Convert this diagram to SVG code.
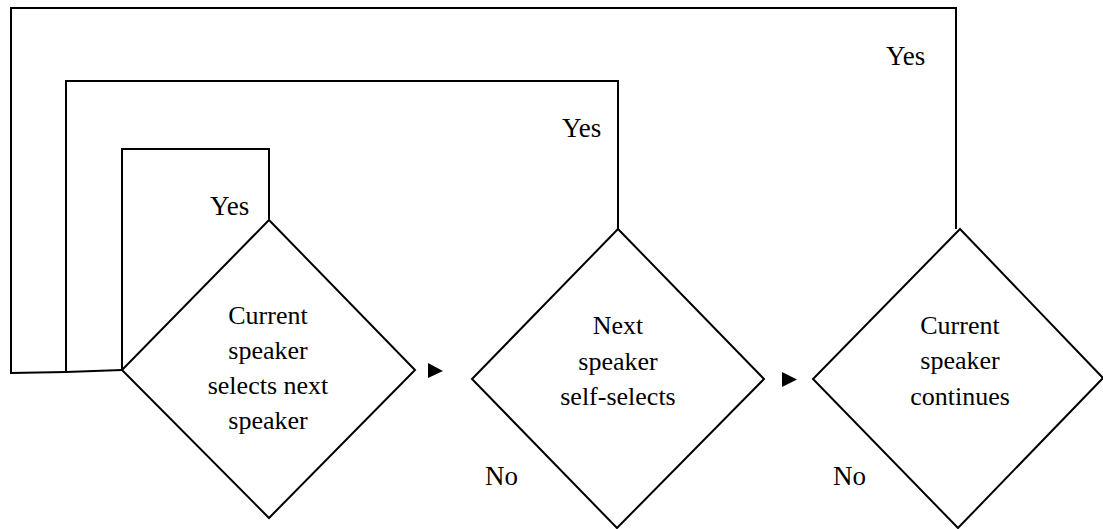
<svg xmlns="http://www.w3.org/2000/svg" width="1103" height="529" viewBox="0 0 1103 529">
<style>
.shape{fill:#fff;stroke:#000;stroke-width:2}
.conn{fill:none;stroke:#000;stroke-width:2}
.arrow{fill:#000;stroke:none}
text{font-family:"Liberation Serif","Times New Roman",Tinos,"DejaVu Serif","Noto Serif",Times,serif;font-size:26px;fill:#000}
.c{text-anchor:middle}
.lbl{font-size:27px}
</style>
<rect width="1103" height="529" fill="#fff"/>
<g id="connectors">
<polyline class="conn" points="269,219 269,149 122,149 122,370"/>
<polyline class="conn" points="618,229 618,81 66,81 66,372"/>
<polyline class="conn" points="956,229 956,8 11,8 11,374"/>
<polyline class="conn" points="11,373 66,372 122,370"/>
<polygon class="arrow" points="428,363 443,371 428,378"/>
<polygon class="arrow" points="782,372 797,379.5 782,387"/>
</g>
<g id="node1">
<polygon class="shape" points="269,220 415,370 269,518 122,370"/>
<text class="c" x="268" y="324">Current</text>
<text class="c" x="268" y="359">speaker</text>
<text class="c" x="268" y="394">selects next</text>
<text class="c" x="268" y="429">speaker</text>
</g>
<g id="node2">
<polygon class="shape" points="618,229 764,379 617,528 472,379"/>
<text class="c" x="618" y="334">Next</text>
<text class="c" x="618" y="370">speaker</text>
<text class="c" x="618" y="405">self-selects</text>
</g>
<g id="node3">
<polygon class="shape" points="960,229 1103,378 958,528 813,379"/>
<text class="c" x="960" y="334">Current</text>
<text class="c" x="960" y="369">speaker</text>
<text class="c" x="960" y="405">continues</text>
</g>
<g id="labels">
<text class="lbl" x="210" y="215">Yes</text>
<text class="lbl" x="562" y="137">Yes</text>
<text class="lbl" x="886" y="65">Yes</text>
<text class="lbl" x="485" y="485">No</text>
<text class="lbl" x="833" y="485">No</text>
</g>
</svg>
